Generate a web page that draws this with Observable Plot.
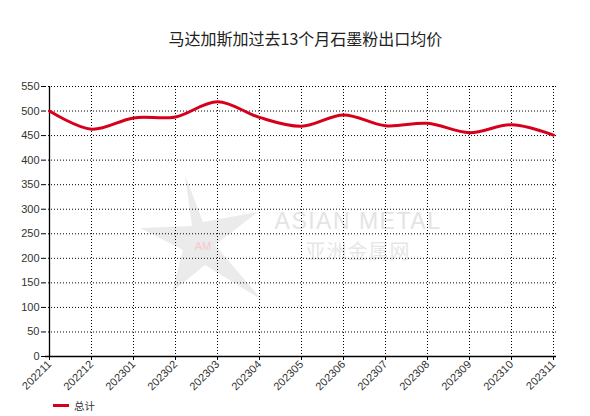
<!DOCTYPE html>
<html>
<head>
<meta charset="utf-8">
<script src="https://cdn.jsdelivr.net/npm/d3@7"></script>
<script src="https://cdn.jsdelivr.net/npm/@observablehq/plot@0.6"></script>
<style>
  body { margin: 0; background: #fff; }
  #wrap { position: relative; width: 590px; height: 416px; overflow: hidden; font-family: "Liberation Sans", Arial, sans-serif; }
  #title { position: absolute; left: 0; top: 26px; width: 611px; text-align: center; font-family: "Noto Sans CJK SC", sans-serif; font-size: 16px; color: #222; }
  #wm { position: absolute; left: 0; top: 0; width: 590px; height: 416px; z-index: 0; }
  #chart { position: absolute; left: 0; top: 60px; z-index: 1; }
  #chart svg { background: transparent !important; }
  #legend { position: absolute; left: 53px; top: 398px; font-family: "Noto Sans CJK SC", sans-serif; font-size: 10.5px; color: #333; display: flex; align-items: center; }
  #legend .sw { width: 16px; height: 3px; background: #d7001c; margin-right: 5px; }
</style>
</head>
<body>
<div id="wrap">
  <div id="title">马达加斯加过去13个月石墨粉出口均价</div>
  <svg id="wm" width="590" height="416">
    <polygon points="185,175 203,222 258,212 215,245 262,300 205,265 172,292 183,250 140,228 192,226" fill="#e6e6e6" opacity="0.8"/>
    <text x="203" y="250" font-size="11" fill="#f6c8cc" font-family="Liberation Sans" text-anchor="middle">AM</text>
    <text x="358" y="229" font-size="23" fill="#e4e4e4" font-family="Liberation Sans" text-anchor="middle" letter-spacing="1.5">ASIAN METAL</text>
    <text x="358" y="259" font-size="20" fill="#e6e6e6" font-family="Noto Sans CJK SC" text-anchor="middle" letter-spacing="1">亚洲金属网</text>
  </svg>
  <div id="chart"></div>
  <div id="legend"><span class="sw"></span><span>总计</span></div>
</div>
<script>
const months = ["202211","202212","202301","202302","202303","202304","202305","202306","202307","202308","202309","202310","202311"];
const prices = [500, 463, 486, 488, 519, 487, 469, 492, 470, 475, 456, 472, 451];
const yTicks = [0, 50, 100, 150, 200, 250, 300, 350, 400, 450, 500, 550];

const data = months.map((m, i) => ({month: m, price: prices[i]}));

const chart = Plot.plot({
  width: 590,
  height: 335,
  marginLeft: 45,
  marginRight: 34,
  marginTop: 26,
  marginBottom: 39,
  style: {fontFamily: "Liberation Sans, Arial, sans-serif", fontSize: "11px", color: "#333", background: "transparent"},
  x: {type: "point", domain: months, padding: 0, label: null},
  y: {domain: [0, 550], label: null},
  marks: [
    Plot.gridY(yTicks, {stroke: "#000", strokeOpacity: 1, strokeDasharray: "1,2"}),
    Plot.gridX(months, {stroke: "#000", strokeOpacity: 1, strokeDasharray: "1,2"}),
    Plot.axisY({ticks: yTicks, tickSize: 4, tickPadding: 2, stroke: "#000", fill: "#333", label: null}),
    Plot.axisX({tickSize: 4, tickRotate: -45, tickPadding: 2, stroke: "#000", fill: "#333", label: null}),
    Plot.ruleX([months[0]], {stroke: "#000", strokeWidth: 1.3}),
    Plot.ruleY([0], {stroke: "#000", strokeWidth: 1.3}),
    Plot.line(data, {x: "month", y: "price", stroke: "#d7001c", strokeWidth: 3, curve: "catmull-rom"})
  ]
});
document.getElementById("chart").appendChild(chart);
</script>
</body>
</html>
